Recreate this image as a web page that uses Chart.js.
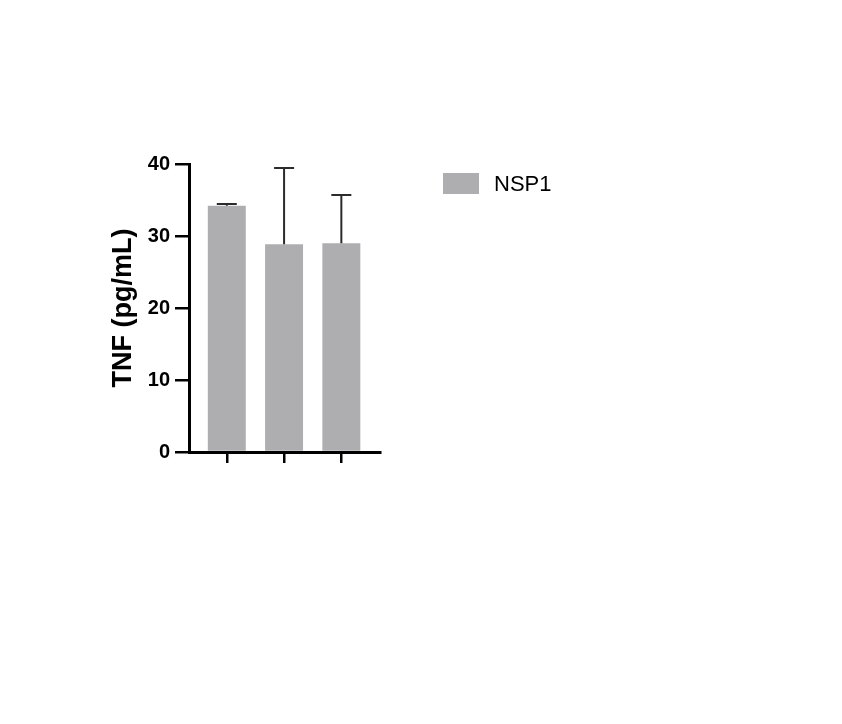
<!DOCTYPE html>
<html>
<head>
<meta charset="utf-8">
<script src="https://cdn.jsdelivr.net/npm/chart.js@4.4.1/dist/chart.umd.min.js"></script>
<style>
  html, body { margin: 0; padding: 0; background: #ffffff; }
  #wrap { position: absolute; left: 0; top: 0; width: 842px; height: 724px; }
</style>
</head>
<body>
<div id="wrap"><canvas id="c" width="842" height="724"></canvas></div>
<script>
// ---- data ----
const categories = ['', '', ''];
const seriesLabel = 'NSP1';
const values = [34.2, 28.85, 29.0];
const errors = [0.25, 10.6, 6.7];
const yTicks = [0, 10, 20, 30, 40];
const yTitle = 'TNF (pg/mL)';

const FONT = "'Liberation Sans', Arial, Helvetica, sans-serif";
const BAR_COLOR = '#AEAEB1';

const errorBarPlugin = {
  id: 'errorBars',
  afterDatasetsDraw(chart) {
    const ctx = chart.ctx;
    const xs = chart.scales.x, ys = chart.scales.y;
    ctx.save();
    ctx.strokeStyle = '#2b2b2b';
    ctx.lineWidth = 2;
    values.forEach((v, i) => {
      const x = xs.getPixelForValue(i + 1);
      const y0 = ys.getPixelForValue(v);
      const y1 = ys.getPixelForValue(v + errors[i]);
      ctx.beginPath();
      ctx.moveTo(x, y0);
      ctx.lineTo(x, y1);
      ctx.moveTo(x - 10, y1);
      ctx.lineTo(x + 10, y1);
      ctx.stroke();
    });
    ctx.restore();
  }
};

const legendPlugin = {
  id: 'customLegend',
  afterDraw(chart) {
    const ctx = chart.ctx;
    const ds = chart.data.datasets[0];
    ctx.save();
    ctx.fillStyle = ds.backgroundColor;
    ctx.fillRect(443, 173, 36, 21);
    ctx.fillStyle = '#000';
    ctx.font = '22px ' + FONT;
    ctx.textBaseline = 'middle';
    ctx.textAlign = 'left';
    ctx.fillText(ds.label, 494, 185);
    ctx.restore();
  }
};

new Chart(document.getElementById('c'), {
  type: 'bar',
  data: {
    labels: categories,
    datasets: [{
      label: seriesLabel,
      data: values.map((v, i) => ({ x: i + 1, y: v })),
      backgroundColor: BAR_COLOR,
      borderWidth: 0,
      categoryPercentage: 1,
      barPercentage: 0.663
    }]
  },
  options: {
    responsive: false,
    animation: false,
    devicePixelRatio: 1,
    layout: { padding: { left: 107, top: 164, right: 462, bottom: 252 } },
    plugins: { legend: { display: false }, tooltip: { enabled: false } },
    scales: {
      x: {
        type: 'linear',
        offset: false,
        min: 0.34,
        max: 3.675,
        afterBuildTicks(scale) { scale.ticks = categories.map((c, i) => ({ value: i + 1 })); },
        afterFit(scale) { scale.height = 20; },
        ticks: { callback: () => '', padding: 0 },
        grid: { offset: false, drawOnChartArea: false, color: '#000', lineWidth: 2.5, tickLength: 11 },
        border: { display: true, color: '#000', width: 3 }
      },
      y: {
        min: 0,
        max: 40,
        afterBuildTicks(scale) { scale.ticks = yTicks.map(v => ({ value: v })); },
        afterFit(scale) { scale.width = 82; },
        ticks: {
          color: '#000',
          padding: 5,
          font: { family: FONT, size: 20, weight: 'bold' }
        },
        grid: { drawOnChartArea: false, color: '#000', lineWidth: 2.5, tickLength: 14 },
        border: { display: true, color: '#000', width: 3 },
        title: {
          display: true,
          text: yTitle,
          color: '#000',
          padding: 0,
          font: { family: FONT, size: 27, weight: 'bold' }
        }
      }
    }
  },
  plugins: [errorBarPlugin, legendPlugin]
});
</script>
</body>
</html>
